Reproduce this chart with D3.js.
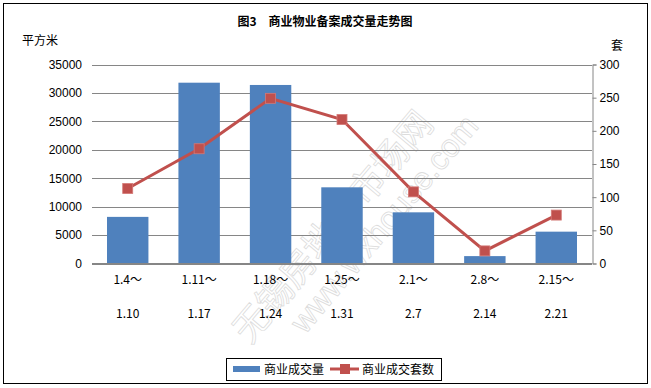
<!DOCTYPE html>
<html>
<head>
<meta charset="utf-8">
<script src="https://cdn.jsdelivr.net/npm/d3@7"></script>
<style>
  body { margin: 0; background: #fff; }
  svg text { font-family: "Liberation Sans", Arial, sans-serif; }
</style>
</head>
<body>
<svg id="chart" width="651" height="388"></svg>
<script>
var weeksFrom = ["1.4～", "1.11～", "1.18～", "1.25～", "2.1～", "2.8～", "2.15～"];
var weeksTo = ["1.10", "1.17", "1.24", "1.31", "2.7", "2.14", "2.21"];
var areaValues = [8200, 31800, 31400, 13400, 9000, 1300, 5600];   // 平方米
var unitValues = [113, 173, 249, 217, 108, 19, 73];                 // 套
var leftTicks = [0, 5000, 10000, 15000, 20000, 25000, 30000, 35000];
var rightTicks = [0, 50, 100, 150, 200, 250, 300];

var svg = d3.select("#chart");
var cjk = '"Noto Sans CJK SC", "Noto Sans", sans-serif';

// outer border
svg.append("rect")
  .attr("x", 3.5).attr("y", 3.5)
  .attr("width", 644).attr("height", 380)
  .attr("fill", "none").attr("stroke", "#000").attr("stroke-width", 1);

var plotL = 92, plotR = 592, plotT = 64.5, plotB = 263.5;

var x = d3.scaleBand().domain(d3.range(weeksFrom.length)).range([plotL, plotR]).paddingInner(0.42).paddingOuter(0.21);
var xc = d3.scaleBand().domain(d3.range(weeksFrom.length)).range([plotL, plotR]);
var yL = d3.scaleLinear().domain([0, 35000]).range([plotB, plotT]);
var yR = d3.scaleLinear().domain([0, 300]).range([plotB, plotT]);

// watermark (behind the marks)
svg.append("text")
  .attr("transform", "translate(250,345) rotate(-50)")
  .attr("font-size", 36)
  .attr("fill", "none").attr("stroke", "#dcdcdc").attr("stroke-width", 0.8)
  .style("font-family", cjk)
  .text("无锡房地产市场网");
svg.append("text")
  .attr("transform", "translate(305,335) rotate(-50)")
  .attr("font-size", 32)
  .attr("fill", "none").attr("stroke", "#dcdcdc").attr("stroke-width", 0.8)
  .style("font-family", '"Liberation Sans", Arial, sans-serif')
  .text("www.wxhouse.com");

// gridlines
svg.append("g").selectAll("line")
  .data(leftTicks)
  .enter().append("line")
  .attr("x1", plotL).attr("x2", plotR)
  .attr("y1", function(d) { return Math.round(yL(d)) + 0.5; })
  .attr("y2", function(d) { return Math.round(yL(d)) + 0.5; })
  .attr("stroke", "#868686").attr("stroke-width", 1);

// left axis labels
var gl = svg.append("g").attr("transform", "translate(" + plotL + ",0)")
  .call(d3.axisLeft(yL).tickValues(leftTicks).tickFormat(d3.format("d")).tickSize(0).tickPadding(10));
gl.select(".domain").remove();
gl.selectAll("text").attr("font-size", 12).attr("fill", "#000")
  .style("font-family", '"Liberation Sans", Arial, sans-serif');

// right axis
var gr = svg.append("g").attr("transform", "translate(" + (plotR + 0.5) + ",0)")
  .call(d3.axisRight(yR).tickValues(rightTicks).tickSize(4).tickPadding(3));
gr.select(".domain").attr("stroke", "#868686");
gr.selectAll(".tick line").attr("stroke", "#868686");
gr.selectAll("text").attr("font-size", 12).attr("fill", "#000")
  .style("font-family", '"Liberation Sans", Arial, sans-serif');

// bars
svg.append("g").selectAll("rect")
  .data(areaValues)
  .enter().append("rect")
  .attr("x", function(d, i) { return x(i); })
  .attr("width", x.bandwidth())
  .attr("y", function(d) { return yL(d); })
  .attr("height", function(d) { return plotB - yL(d); })
  .attr("fill", "#4F81BD");

// baseline over bars
svg.append("line")
  .attr("x1", plotL).attr("x2", plotR)
  .attr("y1", plotB).attr("y2", plotB)
  .attr("stroke", "#868686");

// line
var line = d3.line()
  .x(function(d, i) { return xc(i) + xc.bandwidth() / 2; })
  .y(function(d) { return yR(d); });

svg.append("path")
  .datum(unitValues)
  .attr("d", line)
  .attr("fill", "none")
  .attr("stroke", "#C0504D")
  .attr("stroke-width", 3);

svg.append("g").selectAll("rect")
  .data(unitValues)
  .enter().append("rect")
  .attr("x", function(d, i) { return xc(i) + xc.bandwidth() / 2 - 5; })
  .attr("y", function(d) { return yR(d) - 5; })
  .attr("width", 10).attr("height", 10)
  .attr("fill", "#C0504D")
  .attr("stroke", "#D47976").attr("stroke-width", 0.8);

// x labels, two lines
var xl = svg.append("g");
xl.selectAll("text.from")
  .data(weeksFrom)
  .enter().append("text")
  .attr("class", "from")
  .attr("x", function(d, i) { return xc(i) + xc.bandwidth() / 2; })
  .attr("y", 284)
  .attr("text-anchor", "middle")
  .attr("font-size", 12)
  .style("font-family", cjk)
  .text(function(d) { return d; });
xl.selectAll("text.to")
  .data(weeksTo)
  .enter().append("text")
  .attr("class", "to")
  .attr("x", function(d, i) { return xc(i) + xc.bandwidth() / 2; })
  .attr("y", 318)
  .attr("text-anchor", "middle")
  .attr("font-size", 12)
  .style("font-family", cjk)
  .text(function(d) { return d; });

// titles
svg.append("text")
  .attr("x", 325).attr("y", 26)
  .attr("text-anchor", "middle")
  .attr("font-size", 12).attr("font-weight", "bold")
  .style("font-family", cjk)
  .text("图3　商业物业备案成交量走势图");

svg.append("text")
  .attr("x", 22).attr("y", 45)
  .attr("font-size", 12)
  .style("font-family", cjk)
  .text("平方米");

svg.append("text")
  .attr("x", 611).attr("y", 50)
  .attr("font-size", 12)
  .style("font-family", cjk)
  .text("套");

// legend
var lg = svg.append("g");
lg.append("rect")
  .attr("x", 226.5).attr("y", 358.5)
  .attr("width", 215).attr("height", 22)
  .attr("fill", "#fff").attr("stroke", "#000");
lg.append("rect")
  .attr("x", 233).attr("y", 366)
  .attr("width", 27).attr("height", 6)
  .attr("fill", "#4F81BD");
lg.append("text")
  .attr("x", 264).attr("y", 374)
  .attr("font-size", 12)
  .style("font-family", cjk)
  .text("商业成交量");
lg.append("line")
  .attr("x1", 330).attr("x2", 359)
  .attr("y1", 369).attr("y2", 369)
  .attr("stroke", "#C0504D").attr("stroke-width", 3);
lg.append("rect")
  .attr("x", 340).attr("y", 364)
  .attr("width", 10).attr("height", 10)
  .attr("fill", "#C0504D");
lg.append("text")
  .attr("x", 362).attr("y", 374)
  .attr("font-size", 12)
  .style("font-family", cjk)
  .text("商业成交套数");
</script>
</body>
</html>
